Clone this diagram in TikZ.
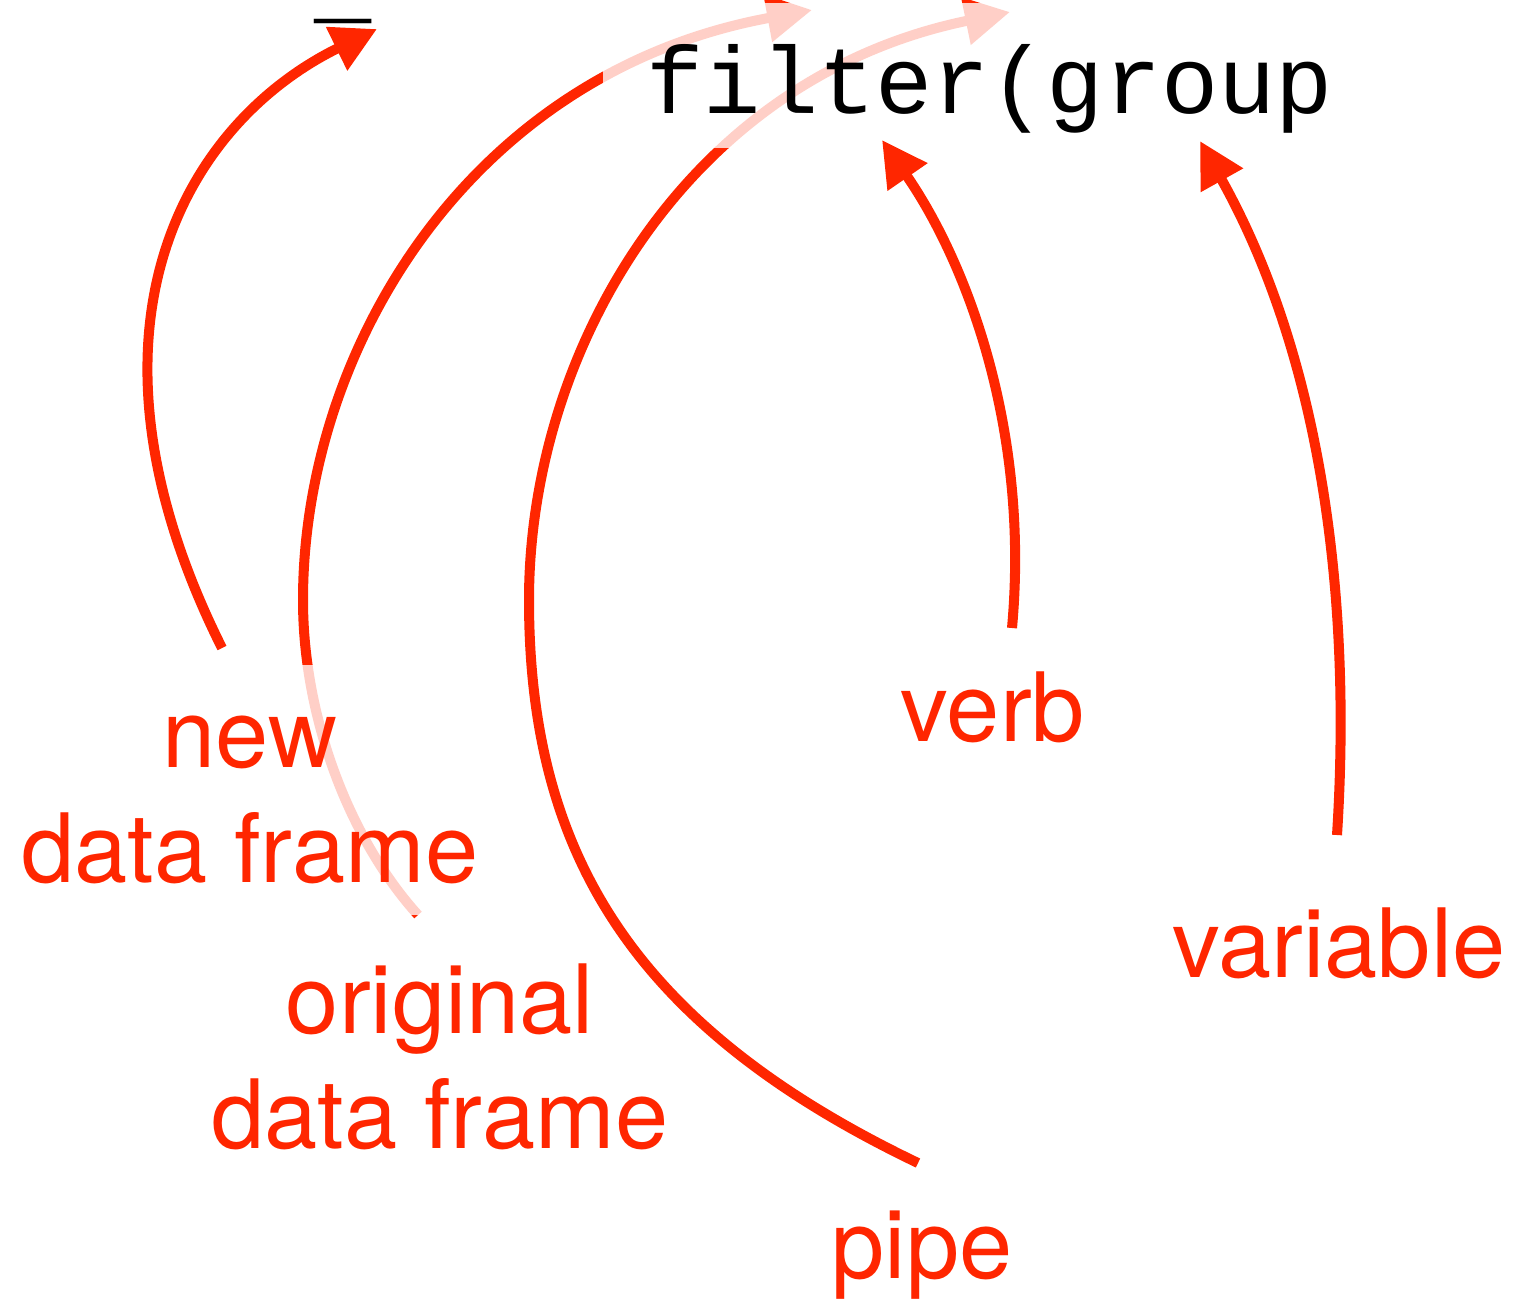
\documentclass[tikz,border=0pt]{standalone}
\usepackage{fontspec}
\setmainfont{TeX Gyre Heros}
\newfontfamily\codefont{Liberation Mono}
\usetikzlibrary{arrows.meta}
\definecolor{hot}{RGB}{255,38,0}
\begin{document}
\begin{tikzpicture}[x=0.01cm, y=-0.01cm,
  lab/.style={text=hot, inner sep=0pt, anchor=base, font=\fontsize{27.2}{32}\selectfont},
  code/.style={text=black, inner sep=0pt, anchor=base west, font=\codefont\fontsize{27.1}{32}\selectfont},
  arr/.style={draw=hot, line width=1mm, -{Triangle[length=4.5mm, width=4.6mm]}},
  veil/.style={fill=white, fill opacity=0.78}]
\useasboundingbox (0,0) rectangle (1515,1302);

% end points of the pointers
\coordinate (newS)  at (222,648);  \coordinate (newT)  at (377,29);
\coordinate (origS) at (418,915);  \coordinate (origM) at (303,600);  \coordinate (origT) at (812,10);
\coordinate (pipeS) at (918,1163); \coordinate (pipeM) at (529,600);  \coordinate (pipeT) at (1010,12);
\coordinate (verbS) at (1012,628); \coordinate (verbT) at (882,140);
\coordinate (varS)  at (1337,835); \coordinate (varT)  at (1200,141);

% the two pointers that are partly veiled
\draw[arr] (origS) .. controls +(-67,-74) and +(0,120) .. (origM)
                   .. controls +(0,-250) and +(-343,63) .. (origT);
\draw[arr] (pipeS) .. controls +(-288,-138) and +(0,250) .. (pipeM)
                   .. controls +(0,-250) and +(-323,66) .. (pipeT);

% translucent veils
\fill[veil] (603,3) rectangle (1120,148);
\fill[veil] (0,665) rectangle (450,915);

% remaining pointers
\draw[arr] (newS) .. controls +(-160,-320) and +(-190,93) .. (newT);
\draw[arr] (verbS) .. controls +(18,-198) and +(85,123) .. (verbT);
\draw[arr] (varS) .. controls +(15,-235) and +(122,218) .. (varT);

% code
\node[code] (under) at (314,13) {\_};
\node[code] (call) at (646,113) {filter(group};

% labels
\node[lab] (new1) at (250,767) {new};
\node[lab] (new2) at (250,882) {data frame};
\node[lab] (orig1) at (440,1033) {original};
\node[lab] (orig2) at (440,1148) {data frame};
\node[lab] (verb) at (993,741) {verb};
\node[lab] (var) at (1339,977) {variable};
\node[lab] (pipe) at (922,1278) {pipe};
\end{tikzpicture}
\end{document}
